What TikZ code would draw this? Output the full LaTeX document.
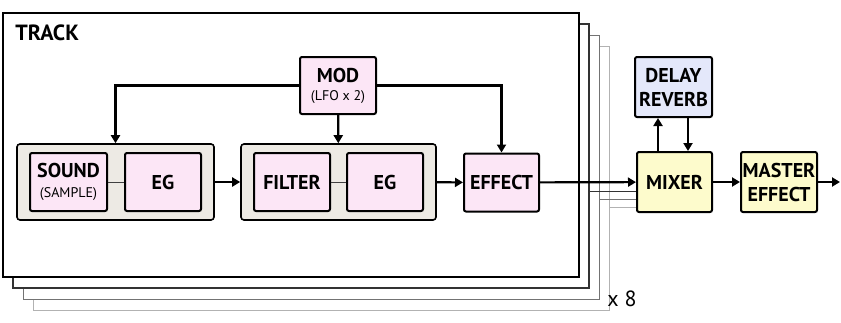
\documentclass[tikz,border=0pt]{standalone}
\usepackage{fontspec}
\setmainfont{PT Sans}
\usetikzlibrary{positioning,fit,arrows.meta}
\definecolor{pinkfill}{RGB}{252,230,246}
\definecolor{grpfill}{RGB}{237,234,228}
\definecolor{yelfill}{RGB}{253,251,204}
\definecolor{bluefill}{RGB}{228,232,250}
\newcommand{\subtxt}[1]{{\fontsize{7}{7}\selectfont\mdseries #1}}
\pgfdeclarelayer{trklayer}
\pgfdeclarelayer{grplayer}
\pgfsetlayers{trklayer,grplayer,main}

\begin{document}
\begin{tikzpicture}[x=0.5pt, y=-0.5pt,
      node distance=8pt,                                   % gap inside a group
      blk/.style={draw, line width=1pt, rounded corners=1pt, fill=pinkfill, align=center,
                  minimum width=38pt, minimum height=29pt, inner sep=0pt,
                  font=\fontsize{10}{12}\selectfont\bfseries},  % one box per unit
      grp/.style={draw, line width=0.8pt, rounded corners=1.5pt, fill=grpfill,
                  inner xsep=6pt, inner ysep=4pt},          % gray group behind two boxes
      layer/.style={draw, fill=white, minimum width=288pt, minimum height=132pt},  % one track
      arr/.style={line width=1.1pt, -{Triangle[length=4pt,width=4.5pt]}},  % arrow style
      link/.style={line width=0.5pt, draw=black!75}]
    \useasboundingbox (0,0) rectangle (841,322);
    % units inside the track
    \node[blk, minimum width=38.5pt] (snd)  at (68.5,182) {SOUND\\[-2pt]\subtxt{(SAMPLE)}};
    \node[blk, right=of snd]         (eg1)  {EG};
    \node[blk]                       (flt)  at (292,182) {FILTER};
    \node[blk, right=7.5pt of flt]   (eg2)  {EG};
    \node[blk, minimum width=37.5pt] (fx)   at (501.5,182.5) {EFFECT};
    \node[blk, minimum height=28.5pt] (mod) at (338,85.5) {MOD\\[-3pt]\subtxt{(LFO x 2)}};
    \begin{pgfonlayer}{grplayer}
      \node[grp, fit=(snd)(eg1)] (grp1) {};
      \node[grp, fit=(flt)(eg2)] (grp2) {};
    \end{pgfonlayer}
    % stack of tracks, back to front
    \begin{pgfonlayer}{trklayer}
      \node[layer, draw=black!30, line width=0.5pt] (trk4) at (321,178) {};
      \node[layer, draw=black!55, line width=0.5pt] (trk3) at (311,167) {};
      \node[layer, draw=black!80, line width=0.6pt] (trk2) at (301,156) {};
      \node[layer, draw=black, line width=1.1pt]    (trk)  at (291,145) {};
    \end{pgfonlayer}
    \node[anchor=west, inner sep=0pt, font=\fontsize{11}{12}\selectfont\bfseries] (title) at (15,33) {TRACK};
    \node[anchor=west, inner sep=0pt, font=\fontsize{11}{12}\selectfont] (times) at (607,299) {x 8};
    % master section
    \node[blk, fill=yelfill, minimum width=37.5pt, minimum height=30pt] (mix) at (674.5,182) {MIXER};
    \node[blk, fill=bluefill, minimum width=38.5pt, minimum height=30pt] (dly) at (673.5,87) {DELAY\\REVERB};
    \node[blk, fill=yelfill, minimum height=30pt, right=13.5pt of mix] (mst) {MASTER\\EFFECT};
    \coordinate (out) at (840,182);
    \foreach \a/\b in {snd/eg1, flt/eg2}
      \draw[link] (\a) -- (\b);                            % plain link inside a group
    \foreach \a/\b in {grp1/grp2, grp2/fx, fx/mix, mix/mst, mst/out}
      \draw[arr] (\a) -- (\b);
    % modulation paths
    \draw[arr] (mod.west) -| (grp1.north);
    \draw[arr] (mod) -- (grp2);
    \draw[arr] (mod.east) -| (fx.north);
    % other tracks into the mixer
    \draw[link, draw=black!80] ([yshift=-4.5pt]mix.west -| trk2.east) -- ([yshift=-4.5pt]mix.west);
    \draw[link, draw=black!55] ([yshift=-8.5pt]mix.west -| trk3.east) -- ([yshift=-8.5pt]mix.west);
    \draw[link, draw=black!30] ([yshift=-12.5pt]mix.west -| trk4.east) -- ([yshift=-12.5pt]mix.west);
    % send / return
    \draw[arr] ([xshift=-8.25pt]mix.north) -- ([xshift=-8.25pt]mix.north |- dly.south);
    \draw[arr] ([xshift=6.75pt]mix.north |- dly.south) -- ([xshift=6.75pt]mix.north);
\end{tikzpicture}
\end{document}
